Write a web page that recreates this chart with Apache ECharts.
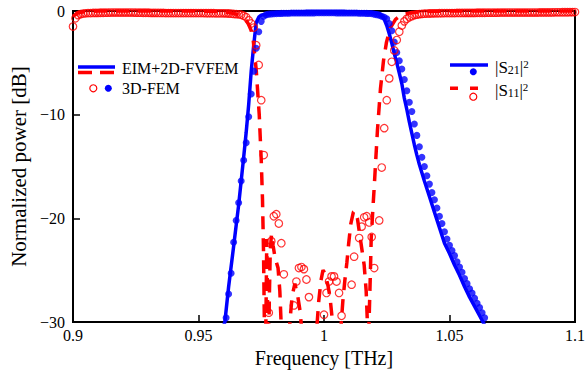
<!DOCTYPE html>
<html>
<head>
<meta charset="utf-8">
<script src="https://cdn.jsdelivr.net/npm/echarts@6/dist/echarts.min.js"></script>
<style>
html,body{margin:0;padding:0;background:#fff;}
#chart{width:588px;height:377px;}
</style>
</head>
<body>
<div id="chart"></div>
<script>
// ---------- data ----------
const xTickValues = [0.9, 0.95, 1, 1.05, 1.1];
const yTickValues = [0, -10, -20, -30];

// EIM+2D-FVFEM |S21|^2 (solid blue line)
const s21LineFreq = [0.9585,0.9605,0.962,0.964,0.966,0.968,0.969,0.970,0.971,0.972,0.973,0.974,0.975,0.977,0.980,0.985,0.990,1.000,1.010,1.018,1.020,1.022,1.023,1.024,1.025,1.026,1.027,1.028,1.029,1.030,1.031,1.032,1.033,1.034,1.035,1.036,1.037,1.038,1.040,1.042,1.044,1.046,1.048,1.050,1.052,1.054,1.056,1.058,1.060,1.062,1.064,1.066];
const s21LineDb   = [-31.5,-30.0,-26.6,-22.7,-18.7,-14.1,-11.7,-9.0,-5.8,-3.3,-1.1,-0.6,-0.4,-0.3,-0.22,-0.17,-0.15,-0.13,-0.13,-0.15,-0.17,-0.25,-0.45,-0.8,-1.4,-2.2,-3.1,-4.1,-5.0,-6.0,-7.0,-8.4,-9.5,-10.7,-11.8,-12.9,-13.9,-14.8,-16.4,-17.9,-19.4,-20.9,-22.4,-23.4,-24.5,-25.5,-26.6,-27.6,-28.5,-29.4,-30.3,-31.2];

// EIM+2D-FVFEM |S11|^2 (dashed red line)
const s11LineFreq = [0.900,0.902,0.905,0.910,0.950,0.958,0.962,0.965,0.967,0.969,0.970,0.971,0.9718,0.9730,0.9742,0.9750,0.9755,0.9759,0.9762,0.9765,0.9769,0.9772,0.9775,0.9778,0.9782,0.9786,0.9791,0.9797,0.9805,0.9817,0.9824,0.9829,0.9834,0.9855,0.9864,0.9873,0.9884,0.9896,0.9905,0.9912,0.9925,0.9950,0.9970,0.9979,0.9988,0.9996,1.0004,1.0016,1.0024,1.0031,1.0037,1.0050,1.0066,1.0075,1.0083,1.0091,1.0098,1.0107,1.0117,1.0125,1.0133,1.0145,1.0160,1.0168,1.0172,1.0176,1.0184,1.0188,1.0194,1.0200,1.0207,1.0213,1.0225,1.0237,1.0249,1.0265,1.0285,1.031,1.035,1.040,1.050,1.100];
const s11LineDb   = [-0.5,-0.2,-0.05,0,0,-0.05,-0.15,-0.3,-0.5,-0.9,-1.3,-1.9,-2.8,-5.7,-10.0,-14.4,-18.2,-23.1,-29.2,-36,-29,-22.0,-28,-36,-28,-23,-21.5,-22.6,-23.8,-24.8,-27.0,-30,-36,-36,-30,-27.5,-26.3,-27.6,-29.0,-31,-36,-36,-31,-28,-26,-25.0,-25.3,-26.5,-27.6,-29.3,-31.5,-36,-31,-28,-26,-24.3,-22.5,-20.5,-19.4,-19.3,-20.0,-22,-24.5,-27,-29.5,-33,-26,-22,-19.4,-17.0,-14,-11.5,-7.5,-4.8,-3.0,-1.6,-0.8,-0.35,-0.15,-0.05,0,0];

// 3D-FEM samples, 0.001 THz apart
const femFreqStep = 0.001;
const s21FemStart = 0.961;
const s21FemDb = [
 -29.6,-27.3,-25.3,-22.3,-20.2,-18.5,-16.4,-14.4,-12.7,-10.2,
 -8.0,-5.8,-3.6,-2.0,-1.0,-0.5,-0.35,-0.3,-0.28,-0.26,
 -0.25,-0.24,-0.23,-0.22,-0.22,-0.21,-0.2,-0.2,-0.2,-0.2,
 -0.19,-0.19,-0.18,-0.18,-0.18,-0.18,-0.17,-0.17,-0.17,-0.17,
 -0.17,-0.17,-0.17,-0.17,-0.18,-0.18,-0.18,-0.18,-0.19,-0.19,
 -0.19,-0.2,-0.2,-0.21,-0.21,-0.22,-0.23,-0.24,-0.25,-0.3,
 -0.35,-0.4,-0.5,-0.6,-0.75,-1.2,-1.9,-3.0,-4.0,-4.8,
 -5.6,-6.6,-7.7,-8.8,-9.7,-10.9,-12.0,-13.1,-14.1,-15.0,
 -15.9,-16.7,-17.5,-18.2,-19.0,-19.8,-20.5,-21.3,-22.0,-22.6,
 -23.1,-23.6,-24.2,-24.7,-25.2,-25.8,-26.3,-26.8,-27.2,-27.7,
 -28.2,-28.6,-29.1,-29.6];
const s11FemStart = 0.900;
const s11FemDb = [
 -1.5,-0.7,-0.4,-0.3,-0.25,-0.22,-0.2,-0.2,-0.19,-0.18,
 -0.18,-0.17,-0.17,-0.16,-0.16,-0.15,-0.15,-0.15,-0.15,-0.15,
 -0.15,-0.15,-0.15,-0.15,-0.15,-0.16,-0.16,-0.16,-0.17,-0.17,
 -0.17,-0.18,-0.18,-0.18,-0.19,-0.19,-0.19,-0.2,-0.2,-0.2,
 -0.2,-0.2,-0.2,-0.2,-0.2,-0.2,-0.2,-0.2,-0.2,-0.2,
 -0.2,-0.2,-0.2,-0.21,-0.21,-0.21,-0.21,-0.22,-0.22,-0.22,
 -0.22,-0.23,-0.24,-0.26,-0.28,-0.3,-0.32,-0.36,-0.45,-0.6,
 -0.9,-1.2,-1.6,-3.3,-5.2,-8.6,-13.9,null,-29.1,-22.2,
 -19.8,-19.6,-20.5,-22.4,-25.4,null,null,null,-28.4,-26.1,
 -24.8,-24.7,-24.9,-25.9,-27.6,null,null,null,null,null,
 -29.3,-27.2,-26.1,-25.6,-25.6,-26.1,-27.2,-29.4,null,null,
 null,-26.4,-23.7,null,-21.9,-20.8,-19.9,-19.8,-20.4,-21.8,
 -24.8,null,-20.2,-15.1,-11.3,-8.6,-6.5,-4.9,-3.8,-2.8,
 -2.0,-1.4,-1.0,-0.75,-0.6,-0.5,-0.4,-0.35,-0.3,-0.28,
 -0.26,-0.25,-0.24,-0.23,-0.22,-0.22,-0.21,-0.21,-0.2,-0.2,
 -0.2,-0.2,-0.2,-0.19,-0.19,-0.19,-0.18,-0.18,-0.18,-0.18,
 -0.18,-0.17,-0.17,-0.17,-0.17,-0.16,-0.16,-0.16,-0.16,-0.16,
 -0.15,-0.15,-0.15,-0.15,-0.15,-0.15,-0.15,-0.15,-0.15,-0.15,
 -0.15,-0.15,-0.15,-0.15,-0.15,-0.15,-0.14,-0.14,-0.14,-0.14,
 -0.14,-0.14,-0.13,-0.13,-0.13,-0.12,-0.12,-0.12,-0.11,-0.11,
 -0.1];

const legendLeftTexts = ['EIM+2D-FVFEM', '3D-FEM'];
const xAxisTitle = 'Frequency [THz]';
const yAxisTitle = 'Normalized power [dB]';

// ---------- build ----------
const FONT = 'serif';
const zip = (xs, ys) => xs.map((x, i) => [x, ys[i]]);
const femPairs = (start, vals) => {
  const out = [];
  vals.forEach((v, i) => { if (v !== null) out.push([+(start + i * femFreqStep).toFixed(4), v]); });
  return out;
};

const chart = echarts.init(document.getElementById('chart'), null, {renderer: 'svg'});
const BLUE = '#0000ff', RED = '#ff0000';
const richStyle = {
  m: {fontFamily: FONT, fontSize: 17, lineHeight: 17, color: '#000'},
  sub: {fontFamily: FONT, fontSize: 12, lineHeight: 12, verticalAlign: 'bottom', color: '#000'},
  sup: {fontFamily: FONT, fontSize: 11, lineHeight: 11, verticalAlign: 'top', color: '#000'}
};

const option = {
  animation: false,
  backgroundColor: '#fff',
  textStyle: {fontFamily: FONT},
  grid: {left: 73, right: 8, top: 11, bottom: 55, show: true, borderColor: '#000', borderWidth: 2, backgroundColor: 'transparent'},
  xAxis: {
    type: 'value', min: 0.9, max: 1.1, interval: 0.05,
    name: xAxisTitle, nameLocation: 'middle', nameGap: 25,
    nameTextStyle: {fontFamily: FONT, fontSize: 20, color: '#000'},
    axisLine: {show: true, onZero: false, lineStyle: {color: '#000', width: 2}},
    axisTick: {show: true, inside: true, length: 7, lineStyle: {color: '#000', width: 1.5}},
    axisLabel: {fontFamily: FONT, fontSize: 16, color: '#000', margin: 5,
      formatter: v => { const t = xTickValues.find(x => Math.abs(x - v) < 1e-9); return t === undefined ? '' : String(t); }},
    splitLine: {show: false}
  },
  yAxis: {
    type: 'value', min: -30, max: 0, interval: 10,
    name: yAxisTitle, nameLocation: 'middle', nameGap: 42,
    nameTextStyle: {fontFamily: FONT, fontSize: 21, color: '#000'},
    axisLine: {show: true, onZero: false, lineStyle: {color: '#000', width: 2}},
    axisTick: {show: true, inside: true, length: 7, lineStyle: {color: '#000', width: 1.5}},
    axisLabel: {fontFamily: FONT, fontSize: 16, color: '#000', margin: 8,
      formatter: v => { const t = yTickValues.find(y => Math.abs(y - v) < 1e-9); return t === undefined ? '' : (t < 0 ? '\u2212' + Math.abs(t) : String(t)); }},
    splitLine: {show: false}
  },
  series: [
    {name: 'S21 EIM', type: 'line', data: zip(s21LineFreq, s21LineDb), showSymbol: false, clip: true,
     lineStyle: {color: BLUE, width: 3.5}, z: 2},
    {name: 'S11 EIM', type: 'line', data: zip(s11LineFreq, s11LineDb), showSymbol: false, clip: true,
     lineStyle: {color: RED, width: 3.5, type: [13, 9]}, z: 3},
    {name: 'S21 FEM', type: 'scatter', data: femPairs(s21FemStart, s21FemDb), symbol: 'circle', symbolSize: 7, clip: true,
     itemStyle: {color: BLUE}, z: 4},
    {name: 'S11 FEM', type: 'scatter', data: femPairs(s11FemStart, s11FemDb), symbol: 'circle', symbolSize: 7.5, clip: true,
     itemStyle: {color: 'rgba(255,255,255,0)', borderColor: RED, borderWidth: 1.2}, z: 5}
  ],
  graphic: [
    // left legend
    {type: 'line', shape: {x1: 78, y1: 67, x2: 115, y2: 67}, style: {stroke: BLUE, lineWidth: 3.5}, z: 10},
    {type: 'line', shape: {x1: 78, y1: 72.5, x2: 114, y2: 72.5}, style: {stroke: RED, lineWidth: 3.5, lineDash: [14, 8]}, z: 10},
    {type: 'text', x: 122, y: 68, style: {text: legendLeftTexts[0], fontFamily: FONT, fontSize: 16, fill: '#000', verticalAlign: 'middle'}, z: 10},
    {type: 'circle', shape: {cx: 93.3, cy: 88.3, r: 3.5}, style: {fill: 'none', stroke: RED, lineWidth: 1.2}, z: 10},
    {type: 'circle', shape: {cx: 108.3, cy: 88.3, r: 3.5}, style: {fill: BLUE}, z: 10},
    {type: 'text', x: 122, y: 88.5, style: {text: legendLeftTexts[1], fontFamily: FONT, fontSize: 16, fill: '#000', verticalAlign: 'middle'}, z: 10},
    // right legend
    {type: 'line', shape: {x1: 450, y1: 65, x2: 488, y2: 65}, style: {stroke: BLUE, lineWidth: 3.5}, z: 10},
    {type: 'circle', shape: {cx: 473.3, cy: 71.7, r: 3.5}, style: {fill: BLUE}, z: 10},
    {type: 'text', x: 495, y: 67, style: {
      text: '{m||S}{sub|21}{m||}{sup|2}', verticalAlign: 'middle', fill: '#000', fontFamily: FONT, rich: richStyle}, z: 10},
    {type: 'line', shape: {x1: 450, y1: 88.3, x2: 488, y2: 88.3}, style: {stroke: RED, lineWidth: 3.5, lineDash: [8, 12]}, z: 10},
    {type: 'circle', shape: {cx: 473.3, cy: 96.7, r: 3.5}, style: {fill: 'none', stroke: RED, lineWidth: 1.2}, z: 10},
    {type: 'text', x: 495, y: 90, style: {
      text: '{m||S}{sub|11}{m||}{sup|2}', verticalAlign: 'middle', fill: '#000', fontFamily: FONT, rich: richStyle}, z: 10}
  ]
};
chart.setOption(option);
</script>
</body>
</html>
